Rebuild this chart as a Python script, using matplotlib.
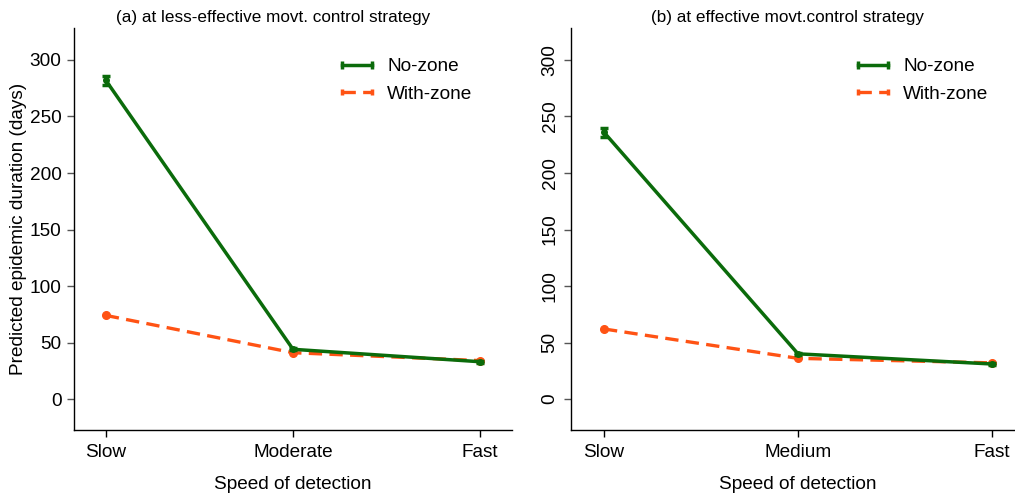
import matplotlib
matplotlib.use("Agg")
import matplotlib.pyplot as plt
from matplotlib.lines import Line2D

plt.rcParams['font.family'] = ['Liberation Sans', 'DejaVu Sans']

# panel (a): less-effective movement control
cats_a = ['Slow', 'Moderate', 'Fast']
nozone_a = [282, 44, 33]
nozone_a_lo = [278, 43, 32]
nozone_a_hi = [286, 45, 34]
withzone_a = [74, 41, 34]

# panel (b): effective movement control
cats_b = ['Slow', 'Medium', 'Fast']
nozone_b = [236, 40, 31]
nozone_b_lo = [232, 39, 30]
nozone_b_hi = [240, 41, 32]
withzone_b = [62, 36, 32]

yticks = [0, 50, 100, 150, 200, 250, 300]

green = '#0b6b0b'
orange = '#ff5314'
fs = 13.7


def draw_panel(ax, cats, nz, nz_lo, nz_hi, wz, title, title_x, leg_x, rot):
    x = list(range(len(cats)))
    err = [[m - l for m, l in zip(nz, nz_lo)], [h - m for m, h in zip(nz, nz_hi)]]
    ax.plot(x, wz, color=orange, lw=2.4, ls=(0, (4, 2.2)), marker='o', ms=5.5, zorder=3)
    ax.errorbar(x, nz, yerr=err, color=green, lw=2.5, marker='o', ms=4,
                capsize=3, capthick=2.5, elinewidth=2.5, zorder=4)
    ax.set_xlim(-0.17, 2.17)
    ax.set_ylim(-27.4, 328.3)
    ax.set_xticks(x)
    ax.set_xticklabels(cats)
    ax.set_yticks(yticks)
    for s in ['top', 'right']:
        ax.spines[s].set_visible(False)
    ax.spines['left'].set_linewidth(1.0)
    ax.spines['bottom'].set_linewidth(1.0)
    ax.tick_params(axis='both', direction='out', length=5, width=1, labelsize=fs, pad=5)
    ax.tick_params(axis='y', color='#555555', pad=4)
    if rot:
        for lb in ax.get_yticklabels():
            lb.set_rotation(90)
            lb.set_va('center')
    ax.set_xlabel('Speed of detection', fontsize=fs, labelpad=11)
    ax.set_title(title, fontsize=12.3, x=title_x, pad=4)
    h1 = Line2D([0, 1], [0, 0], color=green, lw=2.5, marker='|', ms=6, mew=2.5)
    h2 = Line2D([0, 1], [0, 0], color=orange, lw=2.4, ls=(0, (4, 2.2)), marker='|', ms=4, mew=2.5)
    ax.legend([h1, h2], ['No-zone', 'With-zone'], loc='upper left',
              bbox_to_anchor=(leg_x, 0.925), frameon=False, fontsize=fs,
              numpoints=2, handlelength=2.2, handletextpad=0.5,
              labelspacing=0.52, borderpad=0, borderaxespad=0)


fig = plt.figure(figsize=(10.15, 4.95), dpi=100)
ax1 = fig.add_axes([74 / 1015, 65 / 495, 438 / 1015, 402 / 495])
ax2 = fig.add_axes([571 / 1015, 65 / 495, 454 / 1015, 402 / 495])

draw_panel(ax1, cats_a, nozone_a, nozone_a_lo, nozone_a_hi, withzone_a,
           '(a) at less-effective movt. control strategy', 0.454, 0.598, False)
draw_panel(ax2, cats_b, nozone_b, nozone_b_lo, nozone_b_hi, withzone_b,
           '(b) at effective movt.control strategy', 0.476, 0.619, True)
ax1.set_ylabel('Predicted epidemic duration (days)', fontsize=fs, labelpad=2)

fig.savefig('out.png', dpi=100)
